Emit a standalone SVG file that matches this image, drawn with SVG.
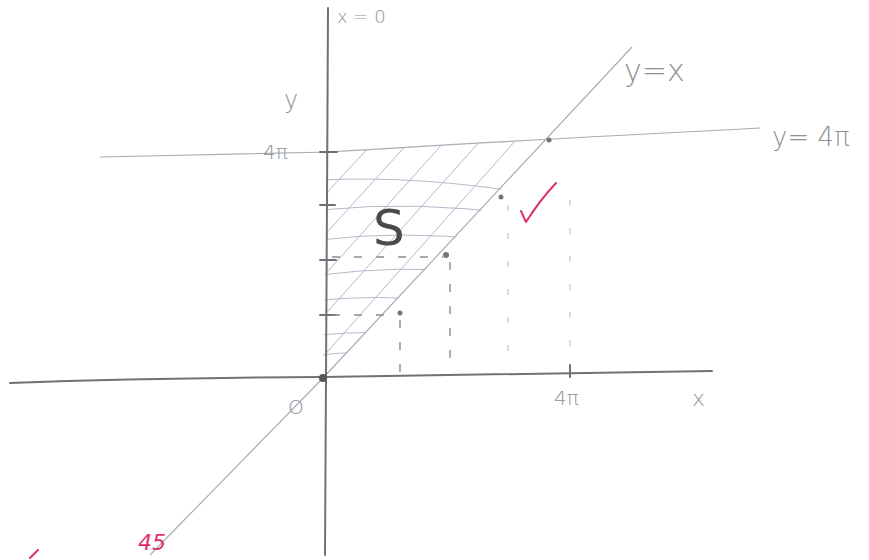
<svg xmlns="http://www.w3.org/2000/svg" width="869" height="560" viewBox="0 0 869 560">
<style>
.ax{fill:none;stroke:#6f7177;stroke-width:2;stroke-linecap:round}
.ln{fill:none;stroke:#a9adb8;stroke-width:1.2}
.h{fill:none;stroke:#b4b8c8;stroke-width:1}
.d{fill:none;stroke:#8a8c90;stroke-width:1.4;stroke-dasharray:8 14}
.df{fill:none;stroke:#c4c6ca;stroke-width:1.2;stroke-dasharray:6 22}
.t{font-family:"DejaVu Sans",sans-serif;fill:#8d9098;font-weight:300}
.red{fill:none;stroke:#e0306a;stroke-width:2;stroke-linecap:round;stroke-linejoin:round}
</style>
<defs>
<clipPath id="reg"><polygon points="328,151 548,140 323,378"/></clipPath>
</defs>
<rect width="869" height="560" fill="#fff"/>
<g id="hatch" clip-path="url(#reg)">
<path class="h" d="M320,200 L385,130 M320,240 L420,130 M320,280 L455,130 M320,320 L490,130 M320,360 L525,130 M340,390 L560,130 M380,390 L600,130 M420,390 L640,130 M460,390 L680,130"/>
<path class="h" d="M320,180 Q420,175 540,195 M320,210 Q420,200 520,215 M320,240 Q400,230 490,240 M320,275 Q400,265 470,272 M320,300 Q380,295 430,300 M320,335 Q370,330 410,335 M320,355 Q360,350 390,356"/>
</g>
<g id="connectors">
<path class="ln" d="M150,555 L323,378 L632,47"/>
<path class="ln" d="M100,157 L330,152 Q450,144 760,128"/>
<path class="ax" d="M328,8 L327,200 L325,555"/>
<path class="ax" d="M10,383 Q150,378 323,377 L712,371"/>
<path class="ax" d="M320,152 H337 M320,205 H335 M320,260 H336 M320,315 H336 M570,365 V377"/>
<path class="d" d="M332,315 H398 M400,320 V376 M332,257 H443 M450,262 V372"/>
<path class="df" d="M508,205 V368 M570,200 V360"/>
</g>
<g id="points" fill="#777">
<circle cx="400" cy="313" r="2.5"/>
<circle cx="446" cy="255" r="3"/>
<circle cx="501" cy="197" r="2.5"/>
<circle cx="549" cy="140" r="2.5"/>
<circle cx="323" cy="378" r="4" fill="#555"/>
</g>
<g id="labels">
<text class="t" x="337" y="23" font-size="18">x = 0</text>
<text class="t" x="284" y="108" font-size="24">y</text>
<text class="t" x="263" y="159" font-size="20">4π</text>
<text x="373" y="245" font-size="50" font-family="DejaVu Sans,sans-serif" fill="#4a4a4a">S</text>
<text class="t" x="624" y="81" font-size="30">y=x</text>
<text class="t" x="772" y="146" font-size="26">y= 4π</text>
<text class="t" x="554" y="405" font-size="20">4π</text>
<text class="t" x="692" y="406" font-size="22">x</text>
<text class="t" x="288" y="414" font-size="20">O</text>
</g>
<g id="marks">
<path class="red" d="M30,558 L38,550"/>
<path class="red" d="M521,211 L526,222 Q540,200 556,183"/>
<text x="138" y="550" font-size="22" font-family="DejaVu Sans,sans-serif" fill="#e0306a" font-style="italic">45</text>
</g>
</svg>
